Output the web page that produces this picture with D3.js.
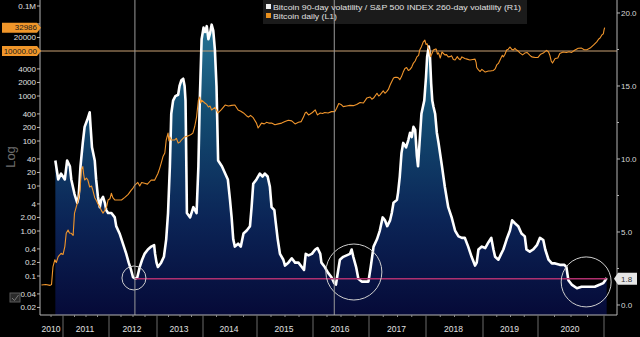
<!DOCTYPE html>
<html><head><meta charset="utf-8">
<script src="https://cdn.jsdelivr.net/npm/d3@7"></script>
<style>html,body{margin:0;padding:0;background:#000;overflow:hidden}svg{display:block}</style>
</head><body>
<script>
// ---------- DATA (decimal year, value) ----------
const yearBreaks = [2010.54, 2011, 2012, 2013, 2014, 2015, 2016, 2017, 2018, 2019, 2020, 2021.05];
const yearLabels = ["2010","2011","2012","2013","2014","2015","2016","2017","2018","2019","2020"];
const leftTicks = [0.02,0.04,0.1,0.2,0.4,1,2,4,10,20,40,100,200,400,1000,2000,4000,10000,20000,40000,100000];
// labels hidden behind the value tags in the original are left empty
const leftTickLabels = ["0.02","0.04","0.1","0.2","0.4","1.00","2.00","4","10","20","40","100","200","400","1000","2000","4000","","20000","","0.1M"];
const rightTicks = [0,5,10,15,20];
const rightTickLabels = ["0.0","5.0","10.0","15.0","20.0"];
const rightMinor = [2.5,7.5,12.5,17.5];
const seriesNames = ["Bitcoin 90-day volatility / S&P 500 INDEX 260-day volatility (R1)", "Bitcoin daily (L1)"];
const lastPrice = 32986, priceRef = 10000, ratioRef = 1.8;
const markerYears = [2012.54, 2016.38];
const circles = [[2012.52, 1.85, 12], [2016.73, 2.26, 28], [2020.73, 1.58, 25]];

const volRatio = [
[2010.84,9.9],[2010.90,8.6],[2010.96,9.0],[2011.04,8.6],[2011.09,9.9],[2011.15,9.5],[2011.18,8.6],[2011.25,7.6],[2011.31,7.0],[2011.34,7.4],[2011.38,9.5],[2011.43,11.1],[2011.47,12.2],[2011.53,12.7],[2011.58,13.2],[2011.60,12.2],[2011.63,10.8],[2011.69,9.9],[2011.72,8.6],[2011.76,7.4],[2011.80,6.7],[2011.83,7.2],[2011.87,7.4],[2011.91,7.0],[2011.94,6.5],[2011.98,6.3],[2012.05,6.3],[2012.12,6.0],[2012.15,5.4],[2012.22,4.9],[2012.29,4.2],[2012.36,3.5],[2012.41,2.9],[2012.46,2.4],[2012.50,1.9],[2012.55,1.8],[2012.59,1.9],[2012.64,2.6],[2012.69,3.1],[2012.74,3.5],[2012.81,3.8],[2012.88,4.0],[2012.94,4.1],[2012.96,3.5],[2012.99,2.9],[2013.02,2.6],[2013.09,2.9],[2013.15,3.3],[2013.20,4.5],[2013.24,6.3],[2013.28,9.5],[2013.31,13.1],[2013.35,14.0],[2013.40,14.3],[2013.46,14.4],[2013.49,15.0],[2013.53,15.4],[2013.57,15.5],[2013.60,15.0],[2013.62,14.0],[2013.64,9.0],[2013.65,6.3],[2013.72,6.0],[2013.79,6.7],[2013.86,6.3],[2013.90,9.5],[2013.93,14.0],[2013.97,18.2],[2014.01,19.0],[2014.04,18.7],[2014.07,19.1],[2014.10,18.2],[2014.13,18.6],[2014.16,19.2],[2014.19,18.8],[2014.22,17.5],[2014.25,15.0],[2014.28,9.9],[2014.35,9.5],[2014.41,9.0],[2014.46,8.6],[2014.50,7.2],[2014.53,6.0],[2014.56,4.5],[2014.59,4.0],[2014.65,4.2],[2014.70,4.0],[2014.75,4.9],[2014.81,5.1],[2014.87,5.4],[2014.90,6.7],[2014.93,8.3],[2014.99,8.6],[2015.05,9.0],[2015.10,8.8],[2015.14,9.0],[2015.19,8.8],[2015.23,8.1],[2015.26,6.7],[2015.31,6.5],[2015.33,5.8],[2015.37,4.5],[2015.41,3.5],[2015.47,3.1],[2015.50,2.7],[2015.56,2.9],[2015.62,3.2],[2015.68,2.9],[2015.74,2.9],[2015.80,2.6],[2015.84,2.4],[2015.87,3.5],[2015.92,3.4],[2015.98,3.5],[2016.04,3.8],[2016.08,3.9],[2016.13,3.5],[2016.15,2.9],[2016.21,2.6],[2016.27,2.2],[2016.33,1.9],[2016.38,1.5],[2016.41,1.4],[2016.43,1.9],[2016.48,3.1],[2016.54,3.3],[2016.60,3.4],[2016.66,3.5],[2016.69,3.8],[2016.72,3.3],[2016.77,2.6],[2016.81,1.8],[2016.87,1.6],[2016.93,1.6],[2016.99,1.6],[2017.03,2.6],[2017.08,4.0],[2017.14,4.5],[2017.19,5.1],[2017.24,6.0],[2017.28,5.8],[2017.32,5.4],[2017.37,5.8],[2017.40,6.3],[2017.43,7.0],[2017.49,7.2],[2017.51,7.7],[2017.54,8.8],[2017.57,10.4],[2017.60,11.1],[2017.65,10.8],[2017.69,11.3],[2017.72,11.8],[2017.75,11.5],[2017.78,12.2],[2017.81,12.0],[2017.84,10.2],[2017.86,9.5],[2017.89,11.3],[2017.92,13.1],[2017.97,14.0],[2018.00,15.6],[2018.02,17.0],[2018.05,17.7],[2018.07,17.0],[2018.09,15.2],[2018.11,14.0],[2018.13,13.6],[2018.16,13.1],[2018.19,11.8],[2018.22,11.1],[2018.28,9.5],[2018.33,8.1],[2018.39,6.7],[2018.45,6.0],[2018.51,5.1],[2018.57,4.7],[2018.63,4.6],[2018.68,4.6],[2018.74,4.0],[2018.80,3.3],[2018.86,2.7],[2018.89,2.9],[2018.92,3.8],[2018.98,4.0],[2019.04,3.9],[2019.10,4.3],[2019.15,4.6],[2019.19,3.8],[2019.22,3.3],[2019.28,3.1],[2019.33,3.5],[2019.37,3.8],[2019.43,4.5],[2019.49,5.1],[2019.53,5.8],[2019.58,5.6],[2019.64,5.4],[2019.70,4.9],[2019.76,4.7],[2019.79,3.8],[2019.85,3.65],[2019.91,3.8],[2019.98,4.1],[2020.03,4.6],[2020.08,4.45],[2020.11,3.8],[2020.16,3.1],[2020.21,2.85],[2020.26,2.85],[2020.33,2.75],[2020.40,2.75],[2020.43,2.6],[2020.46,1.7],[2020.51,1.4],[2020.59,1.15],[2020.66,1.25],[2020.76,1.25],[2020.86,1.25],[2020.94,1.4],[2020.99,1.5],[2021.02,1.7],[2021.04,1.85]
];

const btcDaily = [
[2010.55,0.063],[2010.64,0.065],[2010.73,0.062],[2010.76,0.065],[2010.79,0.16],[2010.83,0.23],[2010.86,0.2],[2010.90,0.27],[2010.96,0.32],[2011.00,0.3],[2011.04,0.45],[2011.07,0.89],[2011.11,1.05],[2011.14,0.9],[2011.18,0.89],[2011.22,0.8],[2011.25,2.5],[2011.29,3.5],[2011.33,4.9],[2011.37,8],[2011.40,23],[2011.43,27],[2011.45,18],[2011.47,13.6],[2011.51,15],[2011.54,13.6],[2011.58,9.5],[2011.62,10],[2011.65,8],[2011.69,5.5],[2011.72,4.9],[2011.76,4],[2011.80,3.4],[2011.84,2.8],[2011.87,2.5],[2011.91,2.9],[2011.95,3.5],[2011.98,4.9],[2012.02,5.2],[2012.05,6.9],[2012.08,5.5],[2012.12,4.9],[2012.19,4.9],[2012.26,4.9],[2012.33,5.6],[2012.40,6.5],[2012.46,8],[2012.50,9],[2012.54,10.5],[2012.60,12],[2012.64,10],[2012.68,12],[2012.74,11.5],[2012.80,11],[2012.88,13.6],[2012.95,13.5],[2013.02,19],[2013.06,25],[2013.09,32],[2013.13,45],[2013.17,54],[2013.20,105],[2013.24,150],[2013.26,100],[2013.28,123],[2013.31,105],[2013.38,105],[2013.42,115],[2013.46,90],[2013.50,95],[2013.53,105],[2013.60,123],[2013.68,130],[2013.74,140],[2013.78,150],[2013.82,210],[2013.86,340],[2013.90,810],[2013.93,950],[2013.95,700],[2013.97,810],[2014.04,690],[2014.07,650],[2014.10,570],[2014.13,600],[2014.16,490],[2014.22,560],[2014.28,420],[2014.34,500],[2014.41,630],[2014.47,600],[2014.53,620],[2014.59,630],[2014.65,490],[2014.70,460],[2014.75,420],[2014.80,370],[2014.84,340],[2014.88,370],[2014.93,330],[2014.99,250],[2015.02,195],[2015.05,220],[2015.08,250],[2015.13,240],[2015.17,260],[2015.21,250],[2015.26,250],[2015.32,230],[2015.38,240],[2015.44,250],[2015.50,270],[2015.56,290],[2015.62,280],[2015.68,240],[2015.74,260],[2015.79,270],[2015.83,340],[2015.86,420],[2015.88,440],[2015.92,380],[2015.95,400],[2015.99,430],[2016.04,490],[2016.08,380],[2016.13,420],[2016.17,410],[2016.21,430],[2016.27,420],[2016.33,450],[2016.39,450],[2016.42,530],[2016.46,680],[2016.50,650],[2016.54,580],[2016.60,600],[2016.66,620],[2016.72,610],[2016.78,650],[2016.84,720],[2016.90,700],[2016.96,900],[2017.02,950],[2017.05,850],[2017.08,900],[2017.14,1150],[2017.17,1000],[2017.19,1050],[2017.25,1300],[2017.28,1150],[2017.31,1250],[2017.34,1400],[2017.37,1750],[2017.40,2100],[2017.43,2500],[2017.46,2600],[2017.49,2600],[2017.52,2500],[2017.54,2300],[2017.57,2700],[2017.60,3400],[2017.63,4100],[2017.66,4300],[2017.69,3700],[2017.72,3900],[2017.75,4400],[2017.78,5400],[2017.81,6000],[2017.84,7400],[2017.87,8000],[2017.89,10500],[2017.92,12500],[2017.95,15800],[2017.98,17500],[2018.00,14000],[2018.02,14500],[2018.04,11500],[2018.06,10500],[2018.08,7500],[2018.10,8500],[2018.13,10500],[2018.16,11000],[2018.18,11000],[2018.20,8500],[2018.22,9100],[2018.25,7000],[2018.28,9500],[2018.33,8200],[2018.36,8300],[2018.39,7400],[2018.42,7500],[2018.45,7800],[2018.48,6500],[2018.51,6300],[2018.55,7500],[2018.57,6800],[2018.60,6400],[2018.63,7400],[2018.68,6800],[2018.72,6600],[2018.77,6300],[2018.82,6500],[2018.86,6600],[2018.88,5500],[2018.89,4300],[2018.92,3800],[2018.95,3500],[2018.98,3900],[2019.04,3400],[2019.10,3600],[2019.13,3600],[2019.19,3700],[2019.22,4000],[2019.25,4900],[2019.28,5300],[2019.31,6300],[2019.35,8000],[2019.37,7400],[2019.40,8500],[2019.43,10500],[2019.46,11000],[2019.49,12300],[2019.52,11000],[2019.55,10500],[2019.58,11500],[2019.61,10500],[2019.64,10000],[2019.67,9100],[2019.72,8200],[2019.76,9000],[2019.80,9300],[2019.85,8100],[2019.88,7500],[2019.91,7300],[2019.95,7200],[2020.00,7200],[2020.04,8500],[2020.08,9000],[2020.11,9800],[2020.13,10300],[2020.16,9500],[2020.18,8000],[2020.20,6000],[2020.22,5400],[2020.26,6800],[2020.30,7000],[2020.33,8800],[2020.38,9500],[2020.43,9300],[2020.47,9600],[2020.51,9300],[2020.56,10500],[2020.61,11500],[2020.66,11600],[2020.70,10700],[2020.74,10700],[2020.79,11600],[2020.84,13500],[2020.89,16000],[2020.92,18500],[2020.94,19400],[2020.97,23000],[2020.99,24000],[2021.00,29000],[2021.01,32986]
];

// ---------- LAYOUT ----------
const W = 640, H = 337;
const L = 40, R = 617, T = 0, B = 315;
const font = "'Liberation Sans', Arial, sans-serif";

const svg = d3.select("body").append("svg").attr("width", W).attr("height", H);
svg.append("rect").attr("width", W).attr("height", H).attr("fill", "#000");

const x = d3.scaleLinear().domain(yearBreaks)
  .range([41, 63, 109, 157, 203, 257, 313, 369, 426, 483, 538, 607.3]);
const yL = d3.scaleLog().domain([0.0136, 136000]).range([B, T]);
const yR = d3.scaleLinear().domain([-0.685, 20.89]).range([B, T]);

const defs = svg.append("defs");
const grad = defs.append("linearGradient").attr("id", "g").attr("gradientUnits", "userSpaceOnUse")
  .attr("x1", 0).attr("x2", 0).attr("y1", T).attr("y2", B);
[[0, "#2c7f9f"], [0.35, "#134d72"], [0.7, "#0b2456"], [1, "#060a38"]].forEach(s =>
  grad.append("stop").attr("offset", s[0]).attr("stop-color", s[1]));

// area
svg.append("path").datum(volRatio)
  .attr("d", d3.area().x(d => x(d[0])).y0(B).y1(d => yR(d[1])))
  .attr("fill", "url(#g)");

// 10000 reference line
svg.append("line").attr("x1", L).attr("x2", R).attr("y1", yL(priceRef)).attr("y2", yL(priceRef))
  .attr("stroke", "#c9a174").attr("stroke-width", 1);

// white ratio line
svg.append("path").datum(volRatio)
  .attr("d", d3.line().x(d => x(d[0])).y(d => yR(d[1])))
  .attr("fill", "none").attr("stroke", "#fff").attr("stroke-width", 2.6).attr("stroke-linejoin", "round");

// orange bitcoin line
svg.append("path").datum(btcDaily)
  .attr("d", d3.line().x(d => x(d[0])).y(d => yL(d[1])))
  .attr("fill", "none").attr("stroke", "#f0952c").attr("stroke-width", 1.1).attr("stroke-linejoin", "round");

// magenta 1.8 line
svg.append("line").attr("x1", x(markerYears[0])).attr("x2", x(volRatio[volRatio.length - 1][0]))
  .attr("y1", yR(ratioRef)).attr("y2", yR(ratioRef))
  .attr("stroke", "#b0306f").attr("stroke-width", 1.6);

// circles
svg.selectAll("circle.c").data(circles).join("circle")
  .attr("cx", d => x(d[0])).attr("cy", d => yR(d[1])).attr("r", d => d[2])
  .attr("fill", "none").attr("stroke", "#cfcfcf").attr("stroke-width", 1);

// legend
const lg = svg.append("g");
lg.append("rect").attr("x", 263).attr("y", 0).attr("width", 264).attr("height", 24).attr("fill", "#1b1b1b");
lg.append("rect").attr("x", 266).attr("y", 4).attr("width", 5).attr("height", 5).attr("fill", "#eee");
lg.append("rect").attr("x", 266).attr("y", 13).attr("width", 5).attr("height", 5).attr("fill", "#e8901e");
lg.append("text").attr("x", 273).attr("y", 10).text(seriesNames[0])
  .attr("font-family", font).attr("font-size", 8).attr("fill", "#e0e0e0")
  .attr("textLength", 248).attr("lengthAdjust", "spacingAndGlyphs");
lg.append("text").attr("x", 273).attr("y", 19).text(seriesNames[1])
  .attr("font-family", font).attr("font-size", 8).attr("fill", "#e0e0e0")
  .attr("textLength", 64).attr("lengthAdjust", "spacingAndGlyphs");

// vertical markers
svg.selectAll("line.vm").data(markerYears).join("line")
  .attr("x1", d => x(d)).attr("x2", d => x(d)).attr("y1", T).attr("y2", B)
  .attr("stroke", "#9a9a9a").attr("stroke-width", 1);

// axes lines
const axisCol = "#b5b5b5";
svg.append("line").attr("x1", L).attr("x2", L).attr("y1", T).attr("y2", B).attr("stroke", axisCol);
svg.append("line").attr("x1", R).attr("x2", R).attr("y1", T).attr("y2", B).attr("stroke", axisCol);
svg.append("line").attr("x1", L).attr("x2", R).attr("y1", B).attr("y2", B).attr("stroke", axisCol);

// left ticks
const lt = svg.append("g");
leftTicks.forEach((v, i) => {
  const y = yL(v);
  lt.append("line").attr("x1", L - 3).attr("x2", L).attr("y1", y).attr("y2", y).attr("stroke", axisCol);
  if (leftTickLabels[i])
    lt.append("text").attr("x", L - 4).attr("y", y).attr("dy", "0.33em").attr("text-anchor", "end")
      .attr("font-family", font).attr("font-size", 8).attr("fill", "#e0e0e0").text(leftTickLabels[i]);
});

// right ticks
rightTicks.forEach((v, i) => {
  const y = yR(v);
  svg.append("line").attr("x1", R).attr("x2", R + 3).attr("y1", y).attr("y2", y).attr("stroke", axisCol);
  svg.append("text").attr("x", R + 4).attr("y", y).attr("dy", "0.33em")
    .attr("font-family", font).attr("font-size", 8).attr("fill", "#d8d8d8").text(rightTickLabels[i]);
});
rightMinor.forEach(v => {
  const y = yR(v);
  svg.append("line").attr("x1", R).attr("x2", R + 2).attr("y1", y).attr("y2", y).attr("stroke", axisCol);
});

// x axis: separators, minor ticks, labels
const sepYears = d3.range(2011, 2022);
svg.selectAll("line.sep").data(sepYears).join("line")
  .attr("x1", d => x(d)).attr("x2", d => x(d)).attr("y1", B).attr("y2", H)
  .attr("stroke", "#6a6a6a");
const quarters = [];
for (let yv = 2010.75; yv < 2021; yv += 0.25) if (yv % 1 !== 0) quarters.push(yv);
svg.selectAll("line.q").data(quarters).join("line")
  .attr("x1", d => x(d)).attr("x2", d => x(d)).attr("y1", B).attr("y2", B + 2)
  .attr("stroke", "#8a8a8a");
yearLabels.forEach((lab, i) => {
  const y0 = Math.max(+lab, yearBreaks[0]);
  const y1 = +lab + 1;
  svg.append("text").attr("x", (x(y0) + x(y1)) / 2 - 1).attr("y", 332).attr("text-anchor", "middle")
    .attr("font-family", font).attr("font-size", 8.5).attr("fill", "#e0e0e0").text(lab);
});

// left value tags
function leftTag(v, label) {
  const y = yL(v);
  svg.append("path").attr("d", `M2,${y - 5}H37L41,${y}L37,${y + 5}H2Z`).attr("fill", "#f0962a");
  svg.append("text").attr("x", 37).attr("y", y).attr("dy", "0.35em").attr("text-anchor", "end")
    .attr("font-family", font).attr("font-size", 8).attr("fill", "#1a1a1a").text(label);
}
leftTag(lastPrice, String(lastPrice));
leftTag(priceRef, priceRef.toFixed(2));

// right value tag
{
  const y = yR(ratioRef);
  svg.append("path").attr("d", `M614,${y}L618,${y - 6}H637V${y + 6}H618Z`).attr("fill", "#e6e6e6");
  svg.append("text").attr("x", 621).attr("y", y).attr("dy", "0.35em")
    .attr("font-family", font).attr("font-size", 8).attr("fill", "#333").text(ratioRef.toFixed(1));
}

// "Log" label
svg.append("text").attr("transform", "translate(15,157) rotate(-90)").attr("text-anchor", "middle")
  .attr("font-family", font).attr("font-size", 13).attr("fill", "#6f6f6f").text("Log");

// small icon
svg.append("rect").attr("x", 10).attr("y", 293).attr("width", 10).attr("height", 9)
  .attr("fill", "#2a2a2a").attr("stroke", "#5a5a5a");
svg.append("path").attr("d", "M12,298L14.5,300.5L18.5,295").attr("fill", "none").attr("stroke", "#777");
</script>
</body></html>
